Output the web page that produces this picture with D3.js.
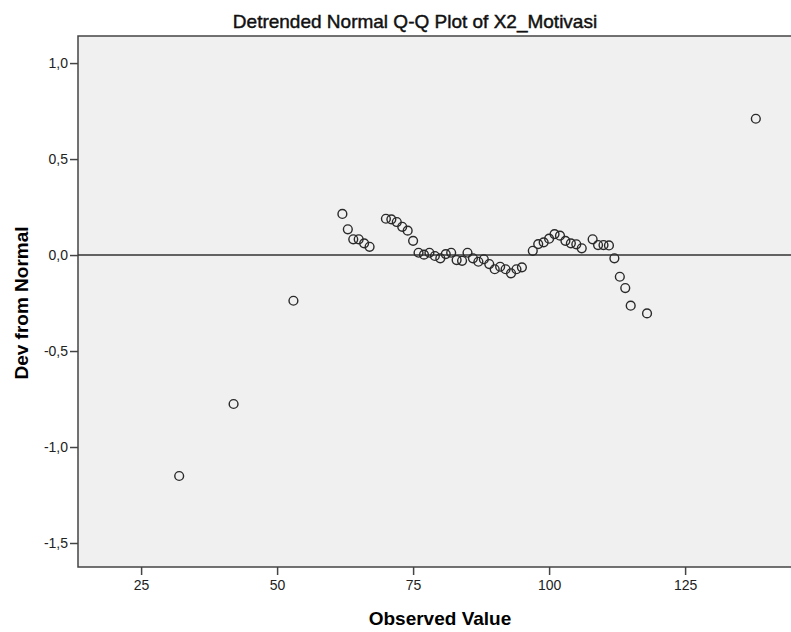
<!DOCTYPE html>
<html>
<head>
<meta charset="utf-8">
<script src="https://cdn.jsdelivr.net/npm/d3@7"></script>
<style>
  html, body { margin: 0; padding: 0; background: #ffffff; }
  svg { display: block; }
  text { font-family: "Liberation Sans", Arial, sans-serif; }
</style>
</head>
<body>
<svg id="chart" width="791" height="632"></svg>
<script>
// ---- data ----
const observed = [32, 42, 53, 62, 63, 64, 65, 66, 67, 70, 71, 72, 73, 74, 75, 76, 77, 78, 79, 80,
  81, 82, 83, 84, 85, 86, 87, 88, 89, 90, 91, 92, 93, 94, 95, 97, 98, 99, 100, 101,
  102, 103, 104, 105, 106, 108, 109, 110, 111, 112, 113, 114, 115, 118, 138];
const devFromNormal = [-1.151, -0.776, -0.238, 0.214, 0.134, 0.082, 0.082, 0.061, 0.043, 0.189, 0.186, 0.172, 0.147, 0.127, 0.074, 0.012, 0.002, 0.012, -0.005, -0.017,
  0.005, 0.012, -0.026, -0.030, 0.012, -0.017, -0.035, -0.022, -0.047, -0.074, -0.061, -0.074, -0.095, -0.074, -0.064, 0.022, 0.057, 0.066, 0.085, 0.109,
  0.101, 0.074, 0.061, 0.056, 0.035, 0.082, 0.052, 0.052, 0.050, -0.017, -0.113, -0.172, -0.264, -0.304, 0.710];
const xTicks = [25, 50, 75, 100, 125];
const yTicks = [-1.5, -1.0, -0.5, 0.0, 0.5, 1.0];
const titleText = "Detrended Normal Q-Q Plot of X2_Motivasi";
const xTitle = "Observed Value";
const yTitle = "Dev from Normal";

// ---- layout ----
const svg = d3.select("#chart");
const plot = { left: 78, top: 36, bottom: 567 };
const xDomain = [13.4, 157];
const pxPerUnit = 5.44;
const x = d3.scaleLinear().domain(xDomain).range([plot.left, plot.left + (xDomain[1] - xDomain[0]) * pxPerUnit]);
const y = d3.scaleLinear().domain([-1.625, 1.141]).range([plot.bottom, plot.top]);

const fmt = v => d3.format(".1f")(v).replace(".", ",").replace("−", "-");

// plot background
svg.append("rect")
  .attr("x", x.range()[0]).attr("y", plot.top)
  .attr("width", x.range()[1] - x.range()[0]).attr("height", plot.bottom - plot.top)
  .attr("fill", "#f0f0f0").attr("stroke", "#444").attr("stroke-width", 1.5);

// zero reference line
svg.append("line")
  .attr("x1", x.range()[0]).attr("x2", x.range()[1])
  .attr("y1", y(0)).attr("y2", y(0))
  .attr("stroke", "#333").attr("stroke-width", 1.6);

// axes
const xAxis = d3.axisBottom(x).tickValues(xTicks).tickSize(8).tickPadding(5).tickFormat(d3.format("d"));
const gx = svg.append("g").attr("transform", `translate(0,${plot.bottom})`).call(xAxis);
gx.select(".domain").remove();
gx.selectAll("line").attr("stroke", "#444").attr("stroke-width", 1.5);
gx.selectAll("text").attr("fill", "#222").style("font-size", "14px");

const yAxis = d3.axisLeft(y).tickValues(yTicks).tickSize(8).tickPadding(2).tickFormat(fmt);
const gy = svg.append("g").attr("transform", `translate(${plot.left},0)`).call(yAxis);
gy.select(".domain").remove();
gy.selectAll("line").attr("stroke", "#444").attr("stroke-width", 1.5);
gy.selectAll("text").attr("fill", "#222").style("font-size", "14px");

// points
svg.append("g").selectAll("circle")
  .data(observed.map((v, i) => ({ x: v, y: devFromNormal[i] })))
  .join("circle")
  .attr("cx", d => x(d.x)).attr("cy", d => y(d.y)).attr("r", 4.4)
  .attr("fill", "none").attr("stroke", "#2a2a2a").attr("stroke-width", 1.4);

// titles
svg.append("text").attr("x", 415).attr("y", 28).attr("text-anchor", "middle")
  .style("font-size", "19px").attr("fill", "#111")
  .attr("stroke", "#111").attr("stroke-width", 0.45).text(titleText);
svg.append("text").attr("x", 440).attr("y", 625).attr("text-anchor", "middle")
  .style("font-size", "19px").style("font-weight", "bold").attr("fill", "#000").text(xTitle);
svg.append("text").attr("transform", "translate(28,303) rotate(-90)").attr("text-anchor", "middle")
  .style("font-size", "19px").style("font-weight", "bold").attr("fill", "#000").text(yTitle);
</script>
</body>
</html>
